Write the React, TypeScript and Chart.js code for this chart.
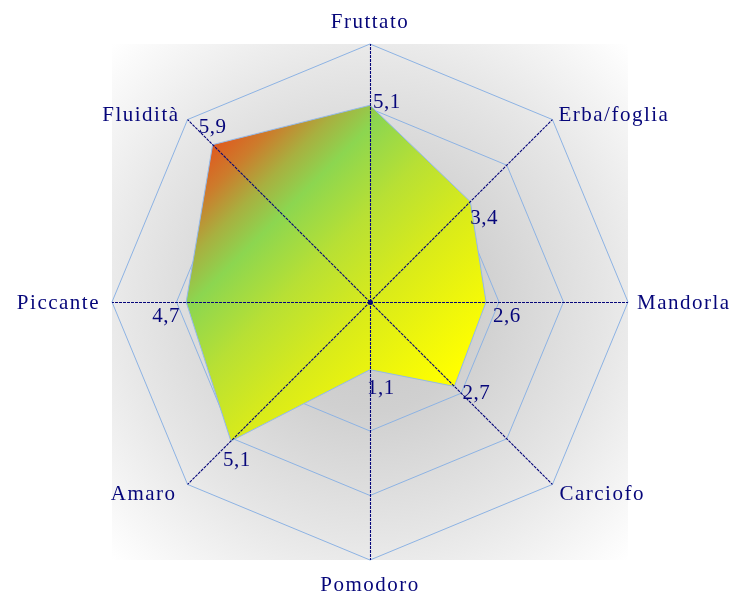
import React, { useEffect, useRef } from "react";
import { Chart, registerables } from "chart.js";

Chart.register(...registerables);

// ---- data ----
const categories = ["Fruttato", "Erba/foglia", "Mandorla", "Carciofo", "Pomodoro", "Amaro", "Piccante", "Fluidità"];
const values = [5.1, 3.4, 2.6, 2.7, 1.1, 5.1, 4.7, 5.9];
const scaleMin = -1;
const scaleMax = 7;
const scaleStep = 2;

// ---- layout (label placement relative to library-computed positions) ----
const pointLabelLayout: { align: CanvasTextAlign; dx: number; dy: number }[] = [
  { align: "center", dx: 0, dy: -16 },
  { align: "left", dx: 6, dy: 1 },
  { align: "left", dx: 9, dy: 7 },
  { align: "left", dx: 7, dy: 16 },
  { align: "center", dx: 0, dy: 31 },
  { align: "right", dx: -11, dy: 16 },
  { align: "right", dx: -12, dy: 7 },
  { align: "right", dx: -8, dy: 1 },
];
const valueLabelOffsets = [
  [3, 3], [0, 22], [7, 20], [8, 13], [-3, 24], [-8, 25], [-34, 20], [-14, -12],
];

const NAVY = "#06067a";
const GRID = "#8db3e4";
const FONT = '"Liberation Serif", "Times New Roman", serif';

const fmt = (v: number) => v.toFixed(1).replace(".", ",");

const decorPlugin = {
  id: "decor",
  beforeDraw(chart: any) {
    const { ctx, chartArea: a } = chart;
    const s = chart.scales.r;
    const cx = s.xCenter, cy = s.yCenter;
    const R = Math.hypot(a.right - cx, a.bottom - cy);
    const g = ctx.createRadialGradient(cx, cy, 0, cx, cy, R);
    g.addColorStop(0, "#c6c6c6");
    g.addColorStop(0.3, "#d0d0d0");
    g.addColorStop(0.65, "#e6e6e6");
    g.addColorStop(1, "#ffffff");
    ctx.save();
    ctx.fillStyle = g;
    ctx.fillRect(a.left, a.top, a.right - a.left, a.bottom - a.top);
    ctx.restore();
  },
  afterDatasetsDraw(chart: any) {
    const { ctx } = chart;
    const s = chart.scales.r;
    const cx = s.xCenter, cy = s.yCenter;
    ctx.save();
    // angle lines on top of the fill
    ctx.strokeStyle = NAVY;
    ctx.lineWidth = 1.1;
    ctx.setLineDash([3, 1]);
    for (let i = 0; i < categories.length; i++) {
      const p = s.getPointPosition(i, s.drawingArea);
      const ox = Math.abs(p.x - cx) < 0.5 ? 0.5 : 0;
      const oy = Math.abs(p.y - cy) < 0.5 ? 0.5 : 0;
      ctx.beginPath();
      ctx.moveTo(cx + ox, cy + oy);
      ctx.lineTo(p.x + ox, p.y + oy);
      ctx.stroke();
    }
    ctx.setLineDash([]);
    ctx.fillStyle = NAVY;
    ctx.beginPath();
    ctx.arc(cx + 0.5, cy + 0.5, 2.5, 0, Math.PI * 2);
    ctx.fill();

    // value labels
    const meta = chart.getDatasetMeta(0);
    ctx.font = `21px ${FONT}`;
    (ctx as any).letterSpacing = "0.5px";
    ctx.textAlign = "left";
    ctx.textBaseline = "alphabetic";
    ctx.fillStyle = NAVY;
    meta.data.forEach((pt: any, i: number) => {
      const [dx, dy] = valueLabelOffsets[i];
      ctx.fillText(fmt(values[i]), pt.x + dx, pt.y + dy);
    });
    ctx.restore();
  },
  afterDraw(chart: any) {
    const { ctx } = chart;
    const s = chart.scales.r;
    ctx.save();
    ctx.font = `21px ${FONT}`;
    (ctx as any).letterSpacing = "1.5px";
    ctx.textBaseline = "alphabetic";
    ctx.fillStyle = NAVY;
    categories.forEach((label, i) => {
      const p = s.getPointPosition(i, s.drawingArea);
      const L = pointLabelLayout[i];
      ctx.textAlign = L.align;
      ctx.fillText(label, p.x + L.dx, p.y + L.dy);
    });
    ctx.restore();
  },
};

export default function App() {
  const ref = useRef<HTMLCanvasElement | null>(null);

  useEffect(() => {
    if (!ref.current) return;
    const chart = new Chart(ref.current, {
      type: "radar",
      data: {
        labels: categories,
        datasets: [
          {
            data: values,
            borderColor: "#93b9ea",
            borderWidth: 1,
            pointRadius: 0,
            pointHoverRadius: 0,
            fill: "start",
            backgroundColor: (c: any) => {
              const s = c.chart.scales.r;
              if (!s || !s.drawingArea) return "#e0f020";
              const r = s.drawingArea;
              const d = Math.SQRT1_2;
              const a = 0.426 * r * d;
              const b = 0.872 * r * d;
              const g = c.chart.ctx.createLinearGradient(
                s.xCenter + a, s.yCenter + a, s.xCenter - b, s.yCenter - b
              );
              g.addColorStop(0, "#ffff00");
              g.addColorStop(0.3, "#dcec18");
              g.addColorStop(0.52, "#b8e034");
              g.addColorStop(0.7, "#8cd650");
              g.addColorStop(0.8, "#a8b040");
              g.addColorStop(0.9, "#cc7c2c");
              g.addColorStop(1, "#e2561e");
              return g;
            },
          },
        ],
      },
      options: {
        responsive: false,
        devicePixelRatio: 1,
        animation: false,
        layout: { padding: { left: 112, top: 44, right: 109, bottom: 34 } },
        plugins: { legend: { display: false }, tooltip: { enabled: false } },
        elements: { line: { tension: 0 } },
        scales: {
          r: {
            min: scaleMin,
            max: scaleMax,
            beginAtZero: false,
            ticks: { display: false, stepSize: scaleStep },
            grid: { color: GRID, lineWidth: 1 },
            angleLines: { display: false },
            pointLabels: { display: false },
          },
        },
      },
      plugins: [decorPlugin],
    } as any);
    return () => chart.destroy();
  }, []);

  return (
    <div style={{ position: "fixed", left: 0, top: 0, width: 737, height: 594, background: "#fff" }}>
      <canvas ref={ref} width={737} height={594} style={{ display: "block" }} />
    </div>
  );
}
